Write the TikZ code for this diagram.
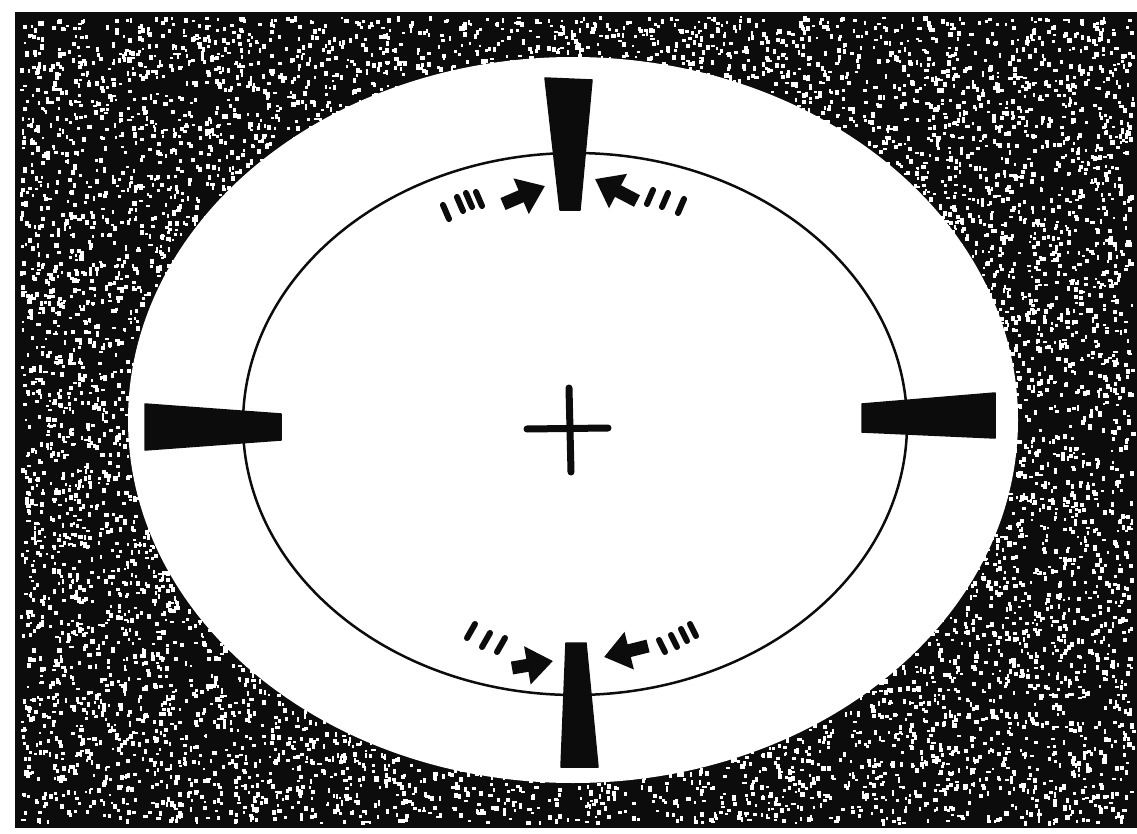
\documentclass[tikz,border=0pt]{standalone}
\usepackage{xcolor}
\definecolor{ink}{HTML}{0C0C0C}
\definecolor{paper}{HTML}{FFFFFF}
\usetikzlibrary{arrows.meta}
\tikzset{
  >={Triangle[length=5.2mm,width=7.4mm]},
  wedge/.style ={fill=ink,draw=ink,line width=0.3mm,line join=round},
  rim/.style   ={draw=ink,line width=0.5mm},
  speck/.style ={fill=paper},
  push/.style  ={->,draw=ink,line width=2.6mm},
  trail/.style ={draw=ink,line width=1.2mm,line cap=round},
  hair/.style  ={draw=ink,line width=1.4mm,line cap=round},
}

\begin{document}
\begin{tikzpicture}[x=0.2mm,y=-0.2mm]
\useasboundingbox (0,0) rectangle (1137,834);
%======================= BACKGROUND ============================
\fill[paper] (0,0) rectangle (1137,834);
\fill[ink] (15,12) rectangle (1137,828);
\pgfmathsetseed{11}
\foreach \i in {1,...,13000}{
  \pgfmathsetmacro\px{20+1112*rnd}
  \pgfmathsetmacro\py{16+806*rnd}
  \pgfmathtruncatemacro\keep{((\px-573)/445)^2+((\py-420)/363)^2>0.97}
  \ifnum\keep=1
    \pgfmathsetmacro\pw{2+2.5*rnd}
    \pgfmathsetmacro\ph{2+3.5*rnd}
    \fill[speck] (\px,\py) rectangle ++(\pw,\ph);
  \fi
}
%======================= DIAL ==================================
\coordinate (ctr) at (573,420);
\fill[paper] (ctr) ellipse (445 and 363);
\draw[rim] (575,424) ellipse (332 and 271);
%======================= WEDGES ================================
\fill[wedge] (545,78) -- (592,80) -- (580,210) -- (560,210) -- cycle;
\fill[wedge] (566,643) -- (586,643) -- (598,767) -- (561,767) -- cycle;
\fill[wedge] (145,404) -- (281,414) -- (281,440) -- (145,450) -- cycle;
\fill[wedge] (862,404) -- (995,393) -- (995,438) -- (862,432) -- cycle;
%======================= CROSS =================================
\draw[hair] (527,429) -- (608,428);
\draw[hair] (569,388) -- (571,472);
%======================= TOP ARROWS ============================
\draw[push] (503,204) -- (545,186);
\draw[push] (637,201) -- (595,179);
\foreach \a/\b in {446/212,460/204,469/200,479/199}
  \draw[trail] (\a,\b) ++(-3,-7) -- ++(6,14);
\foreach \a/\b in {650/197,665/200,681/206}
  \draw[trail] (\a,\b) ++(3,-7) -- ++(-6,14);
%======================= BOTTOM ARROWS =========================
\draw[push] (512,668) -- (553,661);
\draw[push] (648,646) -- (604,657);
\foreach \a/\b in {471/631,486/640,501/645}
  \draw[trail] (\a,\b) ++(4,-7) -- ++(-8,14);
\foreach \a/\b in {662/646,674/641,684/635,693/630}
  \draw[trail] (\a,\b) ++(-3,-6) -- ++(6,12);
\end{tikzpicture}
\end{document}
